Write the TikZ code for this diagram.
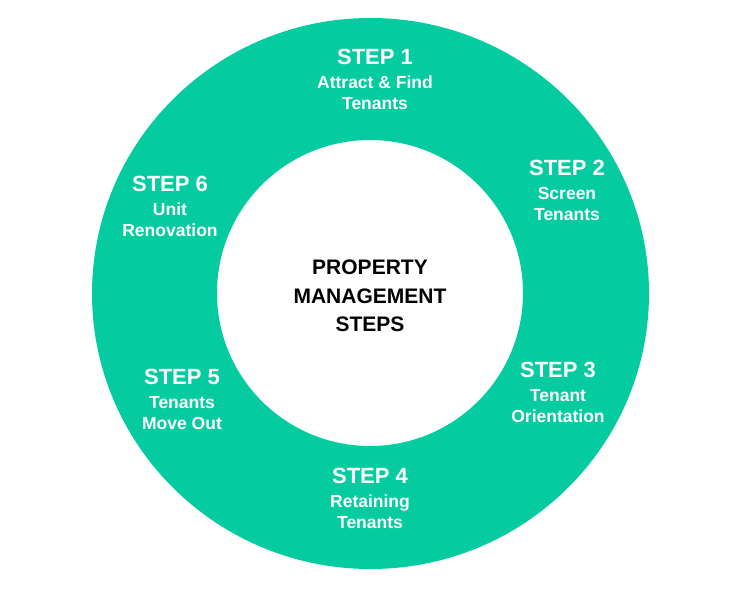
\documentclass[tikz,border=0pt]{standalone}
\usepackage{fontspec}
\setmainfont{Liberation Sans}
\usetikzlibrary{positioning}
\definecolor{ringgreen}{RGB}{5,204,160}
\tikzset{
  steptitle/.style={text=white, font=\bfseries\fontsize{22}{26}\selectfont, inner sep=0pt},
  stepsub/.style={text=white, font=\bfseries\fontsize{17.5}{21}\selectfont, align=center, inner sep=0pt},
  hubtext/.style={text=black, font=\bfseries\fontsize{21}{28.5}\selectfont, align=center, inner sep=0pt}
}
\begin{document}
\begin{tikzpicture}[x=1pt,y=1pt]
  \useasboundingbox (0,0) rectangle (745,-596);
  % ring
  \fill[ringgreen, even odd rule] (370.5,-293.5) ellipse [x radius=278.5, y radius=275.5]
    (370,-293) circle [radius=153];
  % hub
  \node[hubtext] (hub) at (370,-296) {PROPERTY\\MANAGEMENT\\STEPS};
  % steps round the ring
  \node[steptitle] (s1) at (375,-57) {STEP 1};
  \node[stepsub, below=11pt of s1] (d1) {Attract \& Find\\Tenants};
  \node[steptitle] (s2) at (567,-168) {STEP 2};
  \node[stepsub, below=11pt of s2] (d2) {Screen\\Tenants};
  \node[steptitle] (s3) at (558,-370) {STEP 3};
  \node[stepsub, below=11pt of s3] (d3) {Tenant\\Orientation};
  \node[steptitle] (s4) at (370,-476) {STEP 4};
  \node[stepsub, below=11pt of s4] (d4) {Retaining\\Tenants};
  \node[steptitle] (s5) at (182,-377) {STEP 5};
  \node[stepsub, below=11pt of s5] (d5) {Tenants\\Move Out};
  \node[steptitle] (s6) at (170,-184) {STEP 6};
  \node[stepsub, below=11pt of s6] (d6) {Unit\\Renovation};
\end{tikzpicture}
\end{document}
